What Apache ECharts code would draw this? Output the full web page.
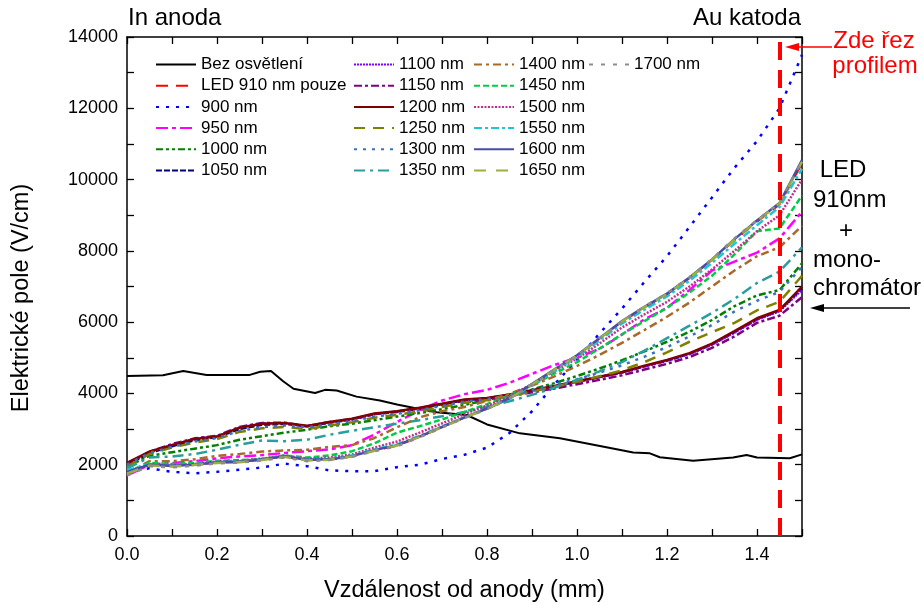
<!DOCTYPE html>
<html>
<head>
<meta charset="utf-8">
<script src="https://cdn.jsdelivr.net/npm/echarts@6/dist/echarts.min.js"></script>
<style>
  html, body { margin: 0; padding: 0; background: #fff; }
  #chart { width: 924px; height: 605px; }
</style>
</head>
<body>
<div id="chart"></div>
<script>
  // vzdálenost od anody (mm) - společná osa pro osvětlené profily
  const vzdalenost = [0, 0.05, 0.1, 0.15, 0.2, 0.25, 0.3, 0.35, 0.4, 0.45, 0.5, 0.55, 0.6, 0.65, 0.7,
    0.75, 0.8, 0.85, 0.9, 0.95, 1.0, 1.05, 1.1, 1.15, 1.2, 1.25, 1.3, 1.35, 1.4, 1.45, 1.5];

  // profil bez osvětlení má vlastní body
  const vzdalenostTma = [0, 0.08, 0.125, 0.177, 0.273, 0.296, 0.32, 0.347, 0.37, 0.418, 0.44, 0.466, 0.51,
    0.562, 0.6, 0.636, 0.688, 0.755, 0.8, 0.873, 0.962, 1.051, 1.125, 1.162, 1.184, 1.258, 1.347, 1.377,
    1.4, 1.473, 1.5];
  const bezOsvetleni = [4490, 4510, 4630, 4520, 4520, 4610, 4630, 4340, 4130, 4010, 4100, 4080, 3910,
    3800, 3690, 3600, 3470, 3395, 3130, 2880, 2740, 2525, 2340, 2320, 2210, 2110, 2200, 2270,
    2200, 2180, 2290];

  const led910 = [1800, 1990, 1960, 2000, 2060, 2070, 2140, 2230, 2130, 2140, 2230, 2400, 2530, 2780, 3050,
    3320, 3570, 3860, 4250, 4670, 5060, 5540, 6010, 6410, 6780, 7230, 7740, 8300, 8820, 9300, 10450];
  const nm900 = [1800, 1900, 1800, 1760, 1800, 1860, 1920, 2030, 1960, 1840, 1820, 1820, 1930, 2000, 2160,
    2280, 2480, 2890, 3500, 4250, 4950, 5680, 6380, 7130, 7850, 8670, 9500, 10330, 11080, 12000, 13500];
  const nm950 = [1700, 2000, 2050, 2100, 2180, 2230, 2270, 2330, 2380, 2430, 2550, 2850, 3200, 3530, 3800,
    3980, 4100, 4300, 4550, 4800, 5000, 5250, 5650, 6080, 6400, 6900, 7450, 7700, 7950, 8350, 9100];
  const nm1000 = [1950, 2250, 2350, 2450, 2550, 2700, 2800, 2900, 2980, 3080, 3150, 3250, 3350, 3450, 3560,
    3680, 3810, 3950, 4110, 4290, 4490, 4700, 4930, 5180, 5450, 5730, 6060, 6450, 6750, 6900, 7650];
  const nm1050 = [2000, 2330, 2520, 2690, 2770, 3000, 3120, 3150, 3080, 3180, 3270, 3420, 3490, 3590, 3700,
    3810, 3860, 3960, 4080, 4200, 4330, 4460, 4590, 4760, 4920, 5110, 5380, 5720, 6080, 6330, 6950];
  const nm1100 = [2020, 2350, 2560, 2730, 2800, 3050, 3160, 3160, 3070, 3190, 3280, 3430, 3500, 3590, 3700,
    3820, 3860, 3960, 4070, 4190, 4320, 4450, 4580, 4750, 4910, 5100, 5360, 5700, 6060, 6300, 6900];
  const nm1150 = [2040, 2360, 2580, 2740, 2810, 3060, 3170, 3180, 3080, 3200, 3280, 3420, 3480, 3570, 3680,
    3790, 3830, 3920, 4030, 4140, 4260, 4380, 4510, 4670, 4830, 5020, 5280, 5600, 5980, 6180, 6700];
  const nm1200 = [2050, 2370, 2550, 2720, 2790, 3040, 3150, 3170, 3090, 3200, 3290, 3440, 3500, 3600, 3710,
    3830, 3870, 3970, 4090, 4210, 4340, 4470, 4600, 4780, 4940, 5130, 5400, 5750, 6110, 6340, 7000];
  const nm1250 = [1950, 2300, 2480, 2620, 2720, 2920, 3020, 3060, 3000, 3100, 3190, 3320, 3400, 3500, 3620,
    3740, 3810, 3920, 4050, 4190, 4330, 4480, 4650, 4880, 5150, 5450, 5720, 5980, 6330, 6570, 7300];
  const nm1300 = [2000, 2330, 2500, 2650, 2750, 2950, 3050, 3100, 3050, 3130, 3230, 3350, 3430, 3530, 3650,
    3770, 3840, 3950, 4090, 4240, 4400, 4580, 4790, 5030, 5300, 5600, 5920, 6300, 6600, 6850, 7550];
  const nm1350 = [1900, 2200, 2230, 2300, 2420, 2560, 2680, 2660, 2700, 2840, 2950, 3050, 3150, 3250, 3360,
    3480, 3620, 3780, 3960, 4160, 4380, 4620, 4880, 5200, 5550, 5900, 6260, 6650, 7100, 7420, 8100];
  const nm1400 = [1750, 2100, 2100, 2150, 2250, 2300, 2370, 2400, 2420, 2500, 2550, 2750, 3050, 3330, 3500,
    3620, 3790, 3990, 4220, 4480, 4770, 5080, 5420, 5780, 6150, 6550, 7000, 7450, 7850, 8100, 8700];
  const nm1450 = [1800, 2050, 2020, 2050, 2110, 2130, 2160, 2260, 2200, 2260, 2380, 2600, 2900, 3080, 3270,
    3480, 3700, 3940, 4230, 4560, 4880, 5260, 5660, 6030, 6400, 6830, 7300, 7900, 8550, 8630, 9550];
  const nm1500 = [1750, 2000, 1990, 2020, 2090, 2110, 2170, 2260, 2170, 2200, 2290, 2480, 2650, 2900, 3160,
    3420, 3660, 3920, 4260, 4620, 4980, 5400, 5850, 6220, 6570, 7000, 7480, 8000, 8550, 9000, 10000];
  const nm1550 = [1850, 2010, 1980, 2010, 2080, 2090, 2160, 2250, 2150, 2170, 2260, 2430, 2570, 2810, 3070,
    3330, 3570, 3850, 4230, 4640, 5020, 5490, 5960, 6350, 6720, 7160, 7660, 8200, 8720, 9230, 10300];
  const nm1600 = [1800, 2000, 1970, 2000, 2070, 2080, 2150, 2240, 2140, 2150, 2240, 2410, 2550, 2790, 3060,
    3330, 3580, 3870, 4260, 4680, 5070, 5550, 6030, 6430, 6800, 7250, 7760, 8330, 8850, 9340, 10550];
  const nm1650 = [1750, 1980, 1950, 1990, 2050, 2070, 2130, 2220, 2120, 2140, 2230, 2390, 2540, 2780, 3050,
    3320, 3570, 3860, 4250, 4670, 5060, 5540, 6020, 6420, 6790, 7240, 7750, 8320, 8840, 9330, 10500];
  const nm1700 = [1700, 1960, 1930, 1970, 2040, 2060, 2120, 2200, 2100, 2130, 2220, 2380, 2520, 2770, 3040,
    3310, 3560, 3860, 4240, 4660, 5060, 5550, 6030, 6440, 6810, 7260, 7770, 8350, 8860, 9340, 10520];

  const rezProfilem = 1.452;   // poloha řezu (mm)
  const yTicks = [0, 2000, 4000, 6000, 8000, 10000, 12000, 14000];
  const xTicks = ['0.0', '0.2', '0.4', '0.6', '0.8', '1.0', '1.2', '1.4'];

  const FONT = 'Liberation Sans, Arial, sans-serif';

  function profil(name, xs, ys, color, dash, width) {
    return {
      name: name,
      type: 'line',
      data: xs.map((x, i) => [x, ys[i]]),
      symbol: 'none',
      showSymbol: false,
      lineStyle: {color: color, width: width || 2, type: dash || 'solid'},
      itemStyle: {color: color},
      emphasis: {disabled: true},
      z: 2,
    };
  }

  const series = [
    profil('Bez osvětlení', vzdalenostTma, bezOsvetleni, '#000000', 'solid', 2),
    profil('LED 910 nm pouze', vzdalenost, led910, '#FF0000', [12, 8]),
    profil('900 nm', vzdalenost, nm900, '#0000FF', [3, 7], 2.5),
    profil('950 nm', vzdalenost, nm950, '#FF00FF', [12, 4, 4, 4], 2.5),
    profil('1000 nm', vzdalenost, nm1000, '#008000', [7, 3, 3, 3, 3, 3], 2.5),
    profil('1050 nm', vzdalenost, nm1050, '#000080', [6, 2], 2.5),
    profil('1100 nm', vzdalenost, nm1100, '#8000FF', [2, 1], 2),
    profil('1150 nm', vzdalenost, nm1150, '#800080', [8, 3, 3, 3], 2.5),
    profil('1200 nm', vzdalenost, nm1200, '#800000', 'solid', 2.5),
    profil('1250 nm', vzdalenost, nm1250, '#808000', [11, 8], 2.5),
    profil('1300 nm', vzdalenost, nm1300, '#3A70C0', [3, 6], 2.5),
    profil('1350 nm', vzdalenost, nm1350, '#2A9E9E', [11, 5, 3, 5], 2.5),
    profil('1400 nm', vzdalenost, nm1400, '#A8692A', [8, 4, 3, 4], 2.5),
    profil('1450 nm', vzdalenost, nm1450, '#00CC44', [6, 3], 2.5),
    profil('1500 nm', vzdalenost, nm1500, '#C0308A', [2, 1.5], 2.5),
    profil('1550 nm', vzdalenost, nm1550, '#20C4D4', [8, 3, 3, 3], 2.5),
    profil('1600 nm', vzdalenost, nm1600, '#4B4BA8', 'solid', 2.5),
    profil('1650 nm', vzdalenost, nm1650, '#9AB040', [12, 10], 2.5),
    profil('1700 nm', vzdalenost, nm1700, '#8C8C8C', [4, 8], 2.5),
    {
      name: 'řez',
      type: 'line',
      data: [],
      markLine: {
        silent: true,
        symbol: 'none',
        label: {show: false},
        lineStyle: {color: '#FF0000', width: 4, type: [18, 10]},
        data: [{xAxis: rezProfilem}],
      },
      z: 5,
    },
  ];

  const names = series.filter(s => s.name !== 'řez').map(s => s.name);

  function legendColumn(left, data) {
    return {
      data: data,
      orient: 'vertical',
      left: left,
      top: 56,
      padding: 0,
      itemWidth: 40,
      itemHeight: 14,
      itemGap: 4.2,
      selectedMode: false,
      itemStyle: {opacity: 0},
      textStyle: {fontSize: 17, fontFamily: FONT, color: '#000'},
    };
  }

  // tiky po 0.1 mm, popisky jen po 0.2 mm
  function xAxis(position, labels) {
    return {
      type: 'value',
      position: position,
      min: 0,
      max: 1.5,
      interval: 0.1,
      axisLine: {onZero: false, lineStyle: {color: '#000', width: 1.5}},
      axisTick: {show: true, inside: true, length: 7, lineStyle: {color: '#000', width: 1.3}},
      minorTick: {show: false},
      splitLine: {show: false},
      axisLabel: {
        show: labels,
        margin: 10,
        fontSize: 18,
        fontFamily: FONT,
        color: '#000',
        formatter: v => (xTicks.indexOf(v.toFixed(1)) >= 0 ? v.toFixed(1) : ''),
      },
      name: labels ? 'Vzdálenost od anody (mm)' : '',
      nameLocation: 'middle',
      nameGap: 43,
      nameTextStyle: {fontSize: 23.5, fontFamily: FONT, color: '#000'},
    };
  }

  function yAxis(position, labels) {
    return {
      type: 'value',
      position: position,
      min: 0,
      max: 14000,
      interval: 1000,
      axisLine: {show: true, onZero: false, lineStyle: {color: '#000', width: 1.5}},
      axisTick: {show: true, inside: true, length: 7, lineStyle: {color: '#000', width: 1.3}},
      minorTick: {show: false},
      splitLine: {show: false},
      axisLabel: {
        show: labels,
        margin: 9,
        fontSize: 18,
        fontFamily: FONT,
        color: '#000',
        formatter: v => (yTicks.indexOf(v) >= 0 ? String(v) : ''),
      },
    };
  }

  function txt(x, y, text, color, align, size, rot) {
    return {
      type: 'text',
      x: x,
      y: y,
      rotation: rot || 0,
      style: {
        text: text,
        fill: color || '#000',
        font: (size || 24) + 'px ' + FONT,
        align: align || 'left',
        verticalAlign: 'middle',
      },
      z: 10,
    };
  }

  function sipka(x1, x2, y, color) {
    return [
      {type: 'line', shape: {x1: x1, y1: y, x2: x2 + 10, y2: y}, style: {stroke: color, lineWidth: 1.5}, z: 10},
      {type: 'polygon', shape: {points: [[x2, y], [x2 + 14, y - 4], [x2 + 14, y + 4]]}, style: {fill: color}, z: 10},
    ];
  }

  const chart = echarts.init(document.getElementById('chart'), null, {renderer: 'canvas'});
  chart.setOption({
    animation: false,
    backgroundColor: '#fff',
    grid: {left: 127, right: 122, top: 37, bottom: 69, containLabel: false, outerBoundsMode: 'none'},
    legend: [
      legendColumn(155, names.slice(0, 6)),
      legendColumn(353, names.slice(6, 12)),
      legendColumn(473, names.slice(12, 18)),
      legendColumn(588, names.slice(18)),
    ],
    xAxis: [xAxis('bottom', true), xAxis('top', false)],
    yAxis: [yAxis('left', true), yAxis('right', false)],
    series: series,
    graphic: [
      txt(22, 298, 'Elektrické pole (V/cm)', '#000', 'center', 23.5, Math.PI / 2),
      txt(128, 18, 'In anoda'),
      txt(801, 18, 'Au katoda', '#000', 'right'),
      txt(874, 41, 'Zde řez', '#FF0000', 'center'),
      txt(875, 66, 'profilem', '#FF0000', 'center'),
      ...sipka(832, 785, 47, '#FF0000'),
      txt(843, 170, 'LED', '#000', 'center'),
      txt(813, 200, '910nm'),
      txt(846, 231, '+', '#000', 'center'),
      txt(813, 260, 'mono-'),
      txt(813, 288, 'chromátor'),
      ...sipka(910, 810, 308, '#000'),
    ],
  });
</script>
</body>
</html>
